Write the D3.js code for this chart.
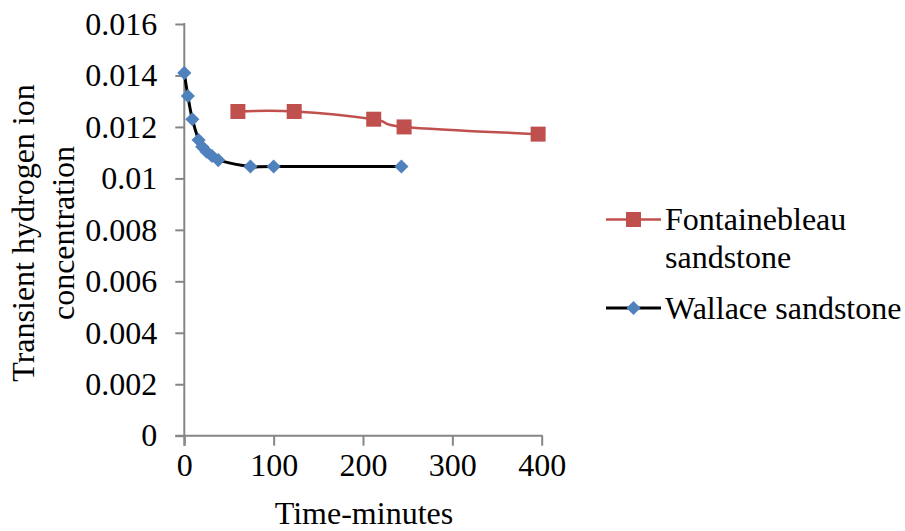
<!DOCTYPE html>
<html>
<head>
<meta charset="utf-8">
<script src="https://cdnjs.cloudflare.com/ajax/libs/d3/7.8.5/d3.min.js"></script>
<style>
  html, body { margin: 0; padding: 0; background: #fff; }
  svg { display: block; }
</style>
</head>
<body>
<svg id="chart" width="905" height="531"></svg>
<script>
// Fontainebleau sandstone series
const fontTime = [60, 123, 212, 246, 396];
const fontConc = [0.0126, 0.0126, 0.0123, 0.0120, 0.01172];

// Wallace sandstone series
const wallTime = [0, 4, 9, 16, 20, 25, 31, 38, 74, 100, 243];
const wallConc = [0.0141, 0.0132, 0.0123, 0.01149, 0.01123, 0.01104, 0.01087, 0.01071, 0.01046, 0.01046, 0.01046];

// Axis ticks
const xTicks = [0, 100, 200, 300, 400];
const yTicks = [0, 0.002, 0.004, 0.006, 0.008, 0.01, 0.012, 0.014, 0.016];
const yTickLabels = ["0", "0.002", "0.004", "0.006", "0.008", "0.01", "0.012", "0.014", "0.016"];

const legendLines = [["Fontainebleau", "sandstone"], ["Wallace sandstone"]];

const FONT = "Liberation Serif";
const fontSize = 32;
const axisColor = "#868686";
const red = "#C0504D";
const blue = "#4F81BD";

const svg = d3.select("#chart");
const x = d3.scaleLinear().domain([0, 400]).range([184.3, 541.7]);
const y = d3.scaleLinear().domain([0, 0.016]).range([435.7, 24]);

function styleText(sel) {
  sel.style("font-family", FONT).style("font-size", fontSize + "px").attr("fill", "#000");
}

// X axis
const xAxis = svg.append("g")
  .attr("transform", `translate(0,${y(0)})`)
  .call(d3.axisBottom(x).tickValues(xTicks).tickSize(10).tickSizeOuter(0).tickPadding(8).tickFormat(d3.format("d")));
xAxis.select(".domain").attr("stroke", axisColor).attr("stroke-width", 2)
  .attr("d", `M${x(0) - 9},0H${x(400) + 1}`);
xAxis.selectAll(".tick line").attr("stroke", axisColor).attr("stroke-width", 2);
xAxis.selectAll(".tick text").call(styleText);

// Y axis
const yAxis = svg.append("g")
  .attr("transform", `translate(${x(0)},0)`)
  .call(d3.axisLeft(y).tickValues(yTicks).tickSize(9).tickSizeOuter(0).tickPadding(18)
    .tickFormat((d, i) => yTickLabels[i]));
yAxis.select(".domain").attr("stroke", axisColor).attr("stroke-width", 2)
  .attr("d", `M0,${y(0.016) - 1}V${y(0) + 10}`);
yAxis.selectAll(".tick line").attr("stroke", axisColor).attr("stroke-width", 2);
yAxis.selectAll(".tick text").call(styleText);

// Axis titles
svg.append("text")
  .attr("x", 364).attr("y", 524)
  .attr("text-anchor", "middle").call(styleText)
  .text("Time-minutes");

const yTitle = svg.append("text")
  .attr("transform", "translate(34,233) rotate(-90)")
  .attr("text-anchor", "middle").call(styleText);
yTitle.append("tspan").attr("x", 0).attr("dy", 0).text("Transient hydrogen ion");
yTitle.append("tspan").attr("x", 0).attr("dy", 40).text("concentration");

const line = d3.line()
  .x(d => x(d[0])).y(d => y(d[1]))
  .curve(d3.curveCardinal.tension(0));

const fontData = fontTime.map((t, i) => [t, fontConc[i]]);
const wallData = wallTime.map((t, i) => [t, wallConc[i]]);

// Lines
svg.append("path").datum(wallData).attr("d", line)
  .attr("fill", "none").attr("stroke", "#000").attr("stroke-width", 3);
svg.append("path").datum(fontData).attr("d", line)
  .attr("fill", "none").attr("stroke", red).attr("stroke-width", 2.5);

// Markers
const sq = 15;
svg.append("g").selectAll("rect").data(fontData).join("rect")
  .attr("x", d => x(d[0]) - sq / 2).attr("y", d => y(d[1]) - sq / 2)
  .attr("width", sq).attr("height", sq).attr("fill", red);

const diamond = d3.symbol().type(d3.symbolSquare).size(100);
svg.append("g").selectAll("path").data(wallData).join("path")
  .attr("d", diamond)
  .attr("transform", d => `translate(${x(d[0])},${y(d[1])}) rotate(45)`)
  .attr("fill", blue);

// Legend
const legend = svg.append("g");
legend.append("line").attr("x1", 606).attr("x2", 661).attr("y1", 219.5).attr("y2", 219.5)
  .attr("stroke", red).attr("stroke-width", 2.5);
legend.append("rect").attr("x", 633.5 - sq / 2).attr("y", 219.5 - sq / 2)
  .attr("width", sq).attr("height", sq).attr("fill", red);
const fText = legend.append("text").attr("x", 665).attr("y", 230).call(styleText);
legendLines[0].forEach((s, i) => fText.append("tspan").attr("x", 665).attr("dy", i ? 38 : 0).text(s));

legend.append("line").attr("x1", 606).attr("x2", 661).attr("y1", 308).attr("y2", 308)
  .attr("stroke", "#000").attr("stroke-width", 3);
legend.append("path").attr("d", diamond)
  .attr("transform", "translate(633.5,308) rotate(45)").attr("fill", blue);
legend.append("text").attr("x", 665).attr("y", 319).call(styleText)
  .text(legendLines[1][0]);
</script>
</body>
</html>
